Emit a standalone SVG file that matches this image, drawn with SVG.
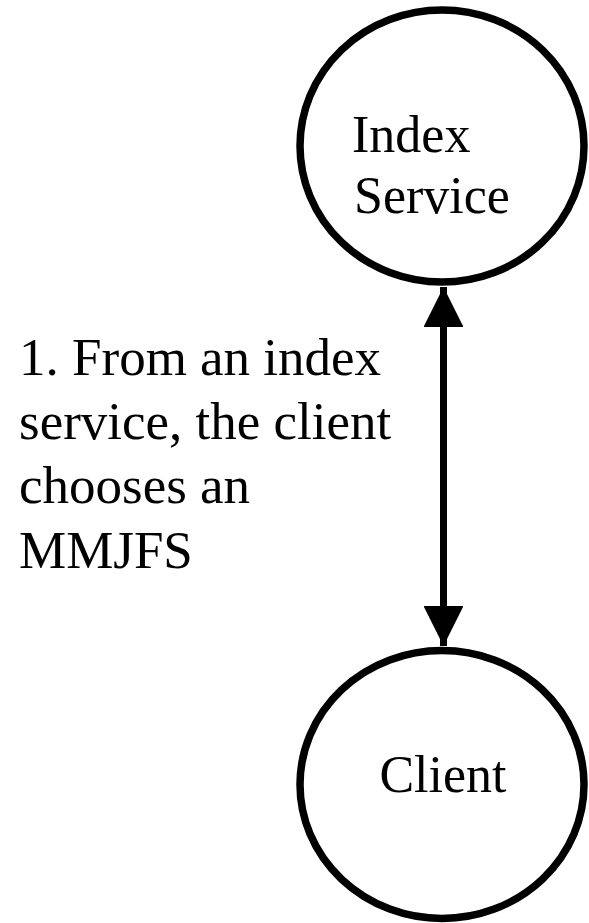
<svg xmlns="http://www.w3.org/2000/svg" width="589" height="923" viewBox="0 0 589 923">
<style>
.node{fill:#fff;stroke:#000;stroke-width:7.5}
.lbl{font-family:"Liberation Serif","Times New Roman",serif;font-size:52px;fill:#000}
.note{font-size:53px}
.edge{stroke:#000;stroke-width:7;fill:none}
</style>
<defs>
<marker id="ah" viewBox="0 0 10 10" refX="10" refY="5" markerWidth="5.7" markerHeight="5.7" orient="auto-start-reverse" markerUnits="strokeWidth">
<path d="M0,0 L10,5 L0,10 z" fill="#000"/>
</marker>
</defs>
<rect width="589" height="923" fill="#fff"/>
<g id="index-service">
<ellipse class="node" cx="442" cy="146" rx="142" ry="136"/>
<text class="lbl" x="352" y="152">Index</text>
<text class="lbl" x="354" y="213">Service</text>
</g>
<g id="client">
<ellipse class="node" cx="442" cy="784.5" rx="142" ry="134"/>
<text class="lbl" x="443" y="792" text-anchor="middle">Client</text>
</g>
<g id="connectors">
<line class="edge" x1="443.5" y1="287" x2="443.5" y2="646" marker-start="url(#ah)" marker-end="url(#ah)"/>
</g>
<g id="label">
<text class="lbl note" x="19" y="375">1. From an index</text>
<text class="lbl note" x="19" y="439">service, the client</text>
<text class="lbl note" x="19" y="503">chooses an</text>
<text class="lbl note" x="19" y="568">MMJFS</text>
</g>
</svg>
